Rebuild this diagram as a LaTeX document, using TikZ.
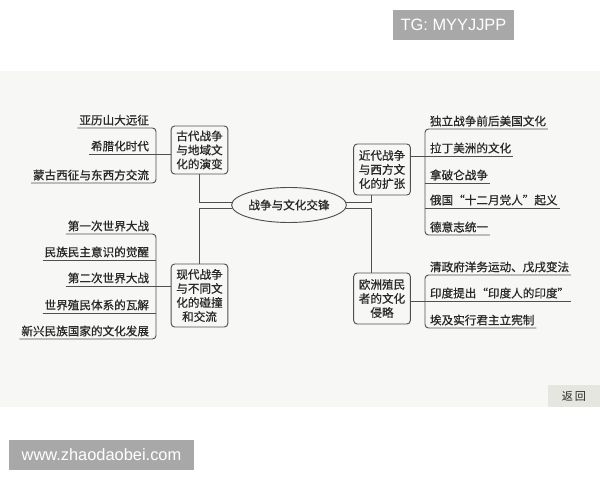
\documentclass[tikz,border=0pt]{standalone}
\usepackage{fontspec}
\usetikzlibrary{shapes.geometric}
\newfontfamily\cjk[FakeBold=0.6]{Noto Sans CJK SC}
\newfontfamily\plaincjk{Noto Sans CJK SC}
\newfontfamily\wmfont{Liberation Sans}
\definecolor{panel}{RGB}{247,247,245}
\definecolor{ink}{RGB}{40,40,40}
\definecolor{wire}{RGB}{80,80,80}
\definecolor{mark}{RGB}{168,168,168}
\definecolor{backbtn}{RGB}{230,230,224}

\begin{document}
\begin{tikzpicture}[x=0.03cm,y=-0.03cm,
    every node/.style={font=\cjk\fontsize{9.9}{12}\selectfont, text=ink},
    topic/.style={draw=wire, line width=0.8pt, rounded corners=3pt, align=center, minimum width=1.7cm, inner sep=1pt},
    hubnode/.style={draw=wire, line width=0.8pt, ellipse, minimum width=2.76cm, minimum height=1.05cm, inner sep=0pt},
    leftitem/.style={anchor=south east, inner xsep=1.5pt, inner ysep=2pt},
    rightitem/.style={anchor=south west, inner xsep=1.5pt, inner ysep=2pt},
    link/.style={draw=wire, line width=0.8pt},
    bracket/.style={link, rounded corners=3pt},
    stamp/.style={fill=mark, text=white, font=\wmfont\fontsize{14}{16}\selectfont, inner sep=0pt}]
    \useasboundingbox (0,0) rectangle (600,480);
    \fill[panel] (0,71) rectangle (600,407);

    % centre and the four topics
    \node[hubnode] (hub) at (289,205) {战争与文化交锋};
    \node[topic, minimum height=1.44cm] (box1) at (199.5,150) {古代战争\\与地域文\\化的演变};
    \node[topic, minimum height=1.89cm] (box2) at (199.5,295.5) {现代战争\\与不同文\\化的碰撞\\和交流};
    \node[topic, minimum height=1.53cm] (box3) at (382,169.5) {近代战争\\与西方文\\化的扩张};
    \node[topic, minimum height=1.53cm] (box4) at (382,298.5) {欧洲殖民\\者的文化\\侵略};

    \draw[link] (box1.south) |- (hub.177);
    \draw[link] (box2.north) |- (hub.183);
    \draw[link] (box3.248) |- (hub.3);
    \draw[link] (box4.112) |- (hub.357);

    % ancient
    \node[leftitem] (a1) at (151,128) {亚历山大远征};
    \node[leftitem] (a2) at (151,154) {希腊化时代};
    \node[leftitem] (a3) at (151,183) {蒙古西征与东西方交流};
    \coordinate (ka) at (156,128);
    \coordinate (kb) at (156,183);
    \draw[bracket] (a1.south west) -- (ka) -- (kb) -- (a3.south west);
    \draw[link] (a2.south west) -- (box1.west |- a2.south);

    % modern
    \node[leftitem] (b1) at (151,234) {第一次世界大战};
    \node[leftitem] (b2) at (151,260) {民族民主意识的觉醒};
    \node[leftitem] (b3) at (151,286) {第二次世界大战};
    \node[leftitem] (b4) at (151,313) {世界殖民体系的瓦解};
    \node[leftitem] (b5) at (151,339) {新兴民族国家的文化发展};
    \coordinate (kc) at (156,234);
    \coordinate (kd) at (156,339);
    \draw[bracket] (b1.south west) -- (kc) -- (kd) -- (b5.south west);
    \draw[link] (b2.south west) -- (kc |- b2.south);
    \draw[link] (b3.south west) -- (box2.west |- b3.south);
    \draw[link] (b4.south west) -- (kc |- b4.south);

    % early modern
    \node[rightitem] (c1) at (428,129) {独立战争前后美国文化};
    \node[rightitem] (c2) at (428,156) {拉丁美洲的文化};
    \node[rightitem] (c3) at (428,183) {拿破仑战争};
    \node[rightitem] (c4) at (428,208) {俄国“十二月党人”起义};
    \node[rightitem] (c5) at (428,235) {德意志统一};
    \coordinate (ke) at (425,129);
    \coordinate (kf) at (425,235);
    \draw[bracket] (c1.south east) -- (ke) -- (kf) -- (c5.south east);
    \draw[link] (box3.east |- c2.south) -- (c2.south east);
    \draw[link] (ke |- c3.south) -- (c3.south east);
    \draw[link] (ke |- c4.south) -- (c4.south east);

    % colonial
    \node[rightitem] (d1) at (428,275) {清政府洋务运动、戊戌变法};
    \node[rightitem] (d2) at (428,301) {印度提出“印度人的印度”};
    \node[rightitem] (d3) at (428,328) {埃及实行君主立宪制};
    \coordinate (kg) at (425,275);
    \coordinate (kh) at (425,328);
    \draw[bracket] (d1.south east) -- (kg) -- (kh) -- (d3.south east);
    \draw[link] (box4.east |- d2.south) -- (d2.south east);

    % page furniture
    \node[stamp, minimum width=3.63cm, minimum height=0.9cm] (tg) at (453.5,25) {TG: MYYJJPP};
    \node[stamp, minimum width=5.55cm, minimum height=0.9cm] (web) at (101.5,455) {www.zhaodaobei.com};
    \node[fill=backbtn, minimum width=1.56cm, minimum height=0.66cm, inner sep=0pt, font=\plaincjk\fontsize{9.5}{11}\selectfont] (back) at (574,396) {返\,回};
\end{tikzpicture}
\end{document}
